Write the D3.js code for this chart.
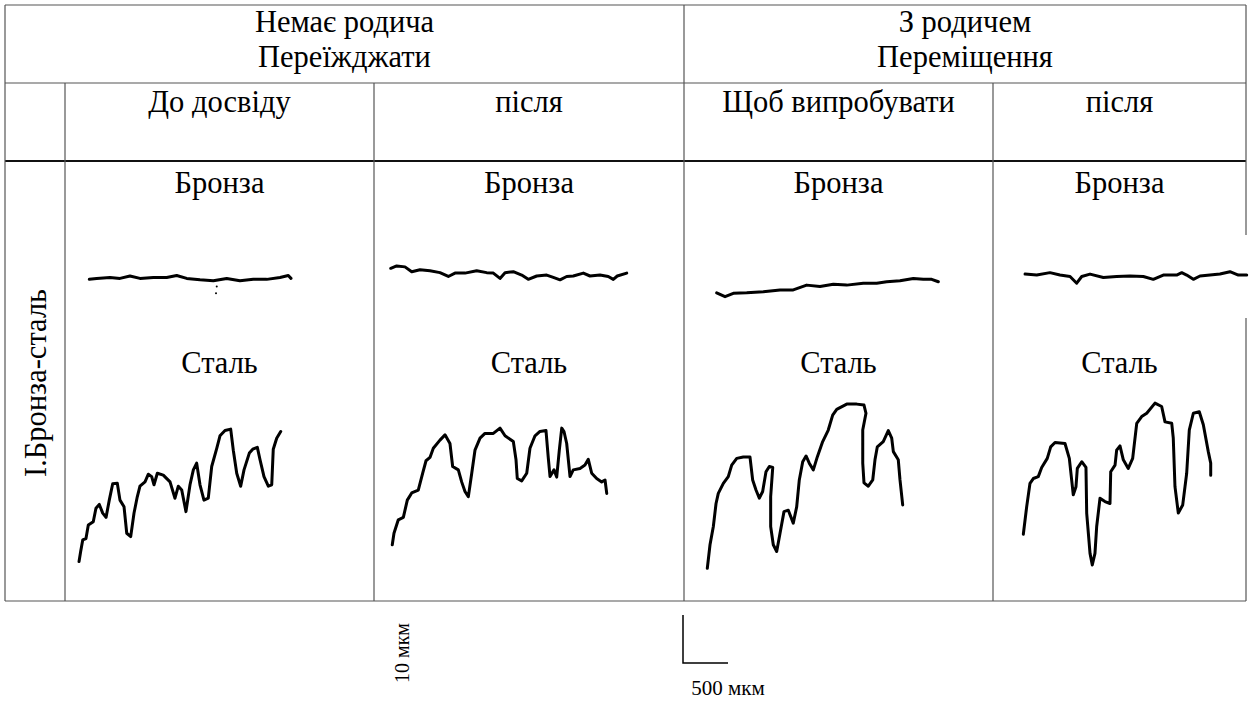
<!DOCTYPE html>
<html>
<head>
<meta charset="utf-8">
<script src="https://cdn.jsdelivr.net/npm/d3@7"></script>
<style>
  html, body { margin: 0; padding: 0; background: #fff; }
</style>
</head>
<body>
<svg id="chart" width="1251" height="702"></svg>
<script>
// header texts
const groupLabels = [['Немає родича', 'Переїжджати'], ['З родичем', 'Переміщення']];
const stageLabels = ['До досвіду', 'після', 'Щоб випробувати', 'після'];
const materialLabels = ['Бронза', 'Сталь'];
const rowLabel = 'I.Бронза-сталь';
const scaleLengths = [10, 500]; // µm: vertical, horizontal
const scaleLabels = ['10 мкм', '500 мкм'];

// profilograms, [distance along trace µm, height µm]
const bronze1 = [[270, 4.3], [352, 4.5], [500, 4.7], [611, 4.5], [722, 5.0], [833, 4.5], [981, 4.7], [1130, 4.7],
  [1241, 5.1], [1352, 4.5], [1500, 4.2], [1648, 4.0], [1797, 4.5], [1944, 4.0], [2092, 4.3], [2241, 4.3],
  [2389, 4.7], [2481, 5.1], [2511, 4.5]];
const bronze1Specks = [[1686, 2.8], [1678, 1.4]];
const bronze2 = [[186, 6.6], [252, 7.1], [344, 6.9], [419, 5.9], [511, 6.3], [622, 6.1], [733, 5.7], [826, 4.9],
  [900, 5.6], [1011, 5.6], [1141, 6.1], [1252, 5.7], [1326, 5.6], [1400, 4.5], [1456, 5.7], [1548, 5.9],
  [1641, 5.2], [1714, 4.3], [1808, 5.0], [1919, 5.2], [1992, 4.7], [2067, 4.2], [2141, 4.9], [2214, 5.0],
  [2326, 5.6], [2400, 5.0], [2511, 5.2], [2603, 4.9], [2659, 4.3], [2703, 5.0], [2808, 5.6]];
const bronze3 = [[363, 1.5], [456, 0.7], [548, 1.4], [697, 1.5], [881, 1.7], [1067, 2.1], [1214, 2.1], [1363, 3.1],
  [1511, 2.8], [1659, 3.3], [1808, 3.1], [1992, 3.5], [2141, 3.5], [2252, 3.8], [2400, 4.0], [2548, 4.5],
  [2659, 4.3], [2752, 4.3], [2826, 3.8]];
const bronze4 = [[356, 5.4], [486, 5.2], [633, 5.7], [744, 5.2], [856, 4.9], [930, 3.5], [986, 4.9], [1078, 5.4],
  [1226, 4.7], [1374, 4.9], [1522, 5.0], [1670, 4.9], [1781, 4.3], [1892, 5.2], [2041, 5.2], [2097, 5.7],
  [2152, 5.2], [2226, 4.3], [2300, 5.0], [2411, 5.2], [2522, 5.4], [2633, 5.9], [2726, 5.2], [2819, 5.2]];

const steel1 = [[156, 2.8], [174, 4.9], [197, 7.3], [233, 7.6], [259, 10.4], [314, 11.1], [344, 13.9], [381, 14.7],
  [419, 12.9], [456, 12.0], [492, 15.6], [530, 19.0], [581, 19.1], [611, 15.6], [656, 14.2], [686, 8.7],
  [730, 8.0], [767, 12.9], [803, 16.3], [833, 18.5], [889, 19.4], [926, 21.0], [963, 20.5], [989, 18.8],
  [1026, 21.2], [1092, 20.8], [1167, 19.4], [1222, 16.0], [1259, 18.5], [1297, 17.7], [1344, 13.2],
  [1389, 18.8], [1426, 21.9], [1463, 23.3], [1500, 18.8], [1544, 15.6], [1592, 16.0], [1630, 22.6],
  [1686, 26.4], [1722, 29.0], [1778, 30.1], [1841, 30.4], [1870, 26.0], [1908, 21.2], [1952, 18.5],
  [1989, 21.9], [2048, 25.4], [2086, 26.2], [2137, 26.6], [2167, 24.0], [2211, 20.5], [2259, 18.5],
  [2297, 18.8], [2314, 26.2], [2352, 28.5], [2397, 29.9]];
const steel2 = [[203, 6.3], [222, 8.7], [270, 11.5], [326, 12.0], [370, 15.6], [419, 17.1], [492, 17.7], [541, 21.2],
  [578, 23.8], [622, 24.5], [659, 26.4], [733, 28.1], [789, 29.2], [844, 27.4], [874, 22.6], [937, 21.9],
  [974, 19.4], [1011, 17.4], [1048, 16.3], [1086, 21.2], [1122, 26.0], [1178, 28.5], [1233, 29.5],
  [1326, 29.5], [1400, 30.6], [1456, 29.0], [1548, 27.8], [1578, 24.0], [1592, 20.1], [1641, 19.6],
  [1697, 21.2], [1733, 26.4], [1789, 29.0], [1844, 29.9], [1911, 30.1], [1937, 24.3], [1956, 20.5],
  [2000, 21.9], [2030, 20.4], [2059, 26.0], [2086, 30.6], [2111, 29.9], [2141, 27.4], [2178, 20.5],
  [2214, 21.9], [2289, 22.2], [2344, 22.9], [2381, 24.1], [2419, 21.2], [2474, 20.1], [2530, 19.4],
  [2567, 19.8], [2586, 17.0]];
const steel3 = [[259, 1.4], [289, 6.3], [326, 10.1], [356, 14.9], [381, 17.0], [437, 19.1], [492, 20.5], [530, 22.9],
  [586, 24.3], [659, 24.6], [733, 24.6], [763, 19.8], [800, 17.7], [837, 16.0], [874, 17.4], [911, 21.5],
  [948, 22.6], [986, 22.4], [963, 16.3], [963, 10.1], [992, 6.3], [1030, 4.9], [1067, 8.7], [1111, 13.2],
  [1159, 13.5], [1214, 10.8], [1252, 14.2], [1281, 19.8], [1319, 23.6], [1356, 24.8], [1392, 23.3],
  [1437, 21.9], [1481, 24.6], [1541, 27.8], [1603, 30.2], [1652, 33.3], [1697, 34.5], [1808, 35.6],
  [1919, 35.6], [2000, 35.4], [2022, 33.7], [1986, 30.2], [1986, 23.3], [2000, 19.2], [2048, 18.5],
  [2097, 19.8], [2122, 24.0], [2148, 26.7], [2214, 27.8], [2270, 30.1], [2308, 28.5], [2326, 25.7],
  [2381, 24.0], [2400, 19.8], [2430, 14.6]];
const steel4 = [[337, 8.5], [374, 14.2], [411, 19.1], [448, 20.1], [503, 20.5], [541, 22.4], [603, 24.3], [641, 26.7],
  [689, 27.6], [800, 27.4], [848, 24.3], [874, 19.8], [892, 16.7], [922, 18.4], [937, 22.2], [986, 23.6],
  [1033, 22.4], [1041, 12.9], [1078, 4.5], [1103, 2.1], [1133, 4.5], [1152, 10.1], [1189, 16.0],
  [1244, 15.3], [1300, 14.9], [1308, 21.5], [1356, 22.9], [1374, 26.0], [1411, 26.9], [1448, 24.0],
  [1503, 22.2], [1552, 24.3], [1597, 31.6], [1652, 33.0], [1708, 33.7], [1800, 35.8], [1874, 35.1],
  [1911, 31.9], [1986, 31.6], [2003, 28.5], [2022, 18.4], [2059, 12.9], [2108, 14.6], [2152, 21.2],
  [2181, 30.2], [2226, 33.7], [2292, 34.0], [2337, 31.3], [2392, 25.7], [2419, 23.3], [2419, 20.8]];

const bronzeTraces = [bronze1, bronze2, bronze3, bronze4];
const steelTraces = [steel1, steel2, steel3, steel4];

// layout
const colEdges = [5, 65, 374, 684, 993, 1246];
const rowEdges = [5, 83, 161, 601];
const fontSize = 30.5;
const serif = "'Liberation Serif', 'Times New Roman', Times, 'DejaVu Serif', serif";

const svg = d3.select('#chart');
const lineColor = '#555';

// x: 500 µm -> 45 px, y: 10 µm -> 48 px
const xScale = d3.scaleLinear().domain([0, 500]).range([0, 45]);
const bronzeY = d3.scaleLinear().domain([0, 10]).range([300, 252]);
const steelY = d3.scaleLinear().domain([0, 10]).range([575, 527]);

function addText(x, y, str, size) {
  return svg.append('text')
    .attr('x', x)
    .attr('y', y)
    .attr('text-anchor', 'middle')
    .attr('font-family', serif)
    .attr('font-size', size)
    .attr('fill', '#000')
    .text(str);
}

// table grid
const grid = svg.append('g').attr('stroke', lineColor).attr('stroke-width', 1.2);
[rowEdges[0], rowEdges[1], rowEdges[3]].forEach(y => {
  grid.append('line').attr('x1', colEdges[0]).attr('x2', colEdges[5]).attr('y1', y).attr('y2', y);
});
grid.append('line')
  .attr('x1', colEdges[0]).attr('x2', colEdges[5])
  .attr('y1', rowEdges[2]).attr('y2', rowEdges[2])
  .attr('stroke', '#111').attr('stroke-width', 2);
grid.append('line').attr('x1', colEdges[0]).attr('x2', colEdges[0]).attr('y1', rowEdges[0]).attr('y2', rowEdges[3]);
grid.append('line').attr('x1', colEdges[3]).attr('x2', colEdges[3]).attr('y1', rowEdges[0]).attr('y2', rowEdges[3]);
[1, 2, 4].forEach(i => {
  grid.append('line').attr('x1', colEdges[i]).attr('x2', colEdges[i]).attr('y1', rowEdges[1]).attr('y2', rowEdges[3]);
});
// right border is interrupted where the last bronze trace runs out of the cell
grid.append('line').attr('x1', colEdges[5]).attr('x2', colEdges[5]).attr('y1', rowEdges[0]).attr('y2', 235);
grid.append('line').attr('x1', colEdges[5]).attr('x2', colEdges[5]).attr('y1', 318).attr('y2', rowEdges[3]);

// group headers
const groupCenters = [(colEdges[0] + colEdges[3]) / 2, (colEdges[3] + colEdges[5]) / 2];
groupLabels.forEach((lines, i) => {
  lines.forEach((t, j) => addText(groupCenters[i], 32 + j * 35, t, fontSize));
});

// stage headers + material labels
stageLabels.forEach((t, i) => {
  const cx = (colEdges[i + 1] + colEdges[i + 2]) / 2;
  addText(cx, 112, t, fontSize);
  addText(cx, 193, materialLabels[0], fontSize);
  addText(cx, 373, materialLabels[1], fontSize);
});

// row label
addText(0, 0, rowLabel, fontSize)
  .attr('transform', `translate(${(colEdges[0] + colEdges[1]) / 2 + 11}, 383) rotate(-90)`);

// profile traces
const traces = svg.append('g')
  .attr('fill', 'none')
  .attr('stroke', '#000')
  .attr('stroke-width', 3)
  .attr('stroke-linejoin', 'round')
  .attr('stroke-linecap', 'round');

bronzeTraces.forEach((pts, i) => {
  const left = colEdges[i + 1];
  const gen = d3.line().x(d => left + xScale(d[0])).y(d => bronzeY(d[1]));
  traces.append('path').attr('d', gen(pts));
});
steelTraces.forEach((pts, i) => {
  const left = colEdges[i + 1];
  const gen = d3.line().x(d => left + xScale(d[0])).y(d => steelY(d[1]));
  traces.append('path').attr('d', gen(pts));
});

svg.selectAll('.speck')
  .data(bronze1Specks)
  .join('circle')
  .attr('cx', d => colEdges[1] + xScale(d[0]))
  .attr('cy', d => bronzeY(d[1]))
  .attr('r', 1)
  .attr('fill', '#000');

// scale bar
const barX = 683;
const barY = 663;
const barH = steelY(0) - steelY(scaleLengths[0]);
const barW = xScale(scaleLengths[1]);
svg.append('path')
  .attr('d', `M${barX},${barY - barH}V${barY}H${barX + barW}`)
  .attr('fill', 'none')
  .attr('stroke', '#000')
  .attr('stroke-width', 1.5);

addText(0, 0, scaleLabels[0], 20)
  .attr('transform', `translate(409, 653) rotate(-90)`);
addText(728, 695, scaleLabels[1], 21);
</script>
</body>
</html>
